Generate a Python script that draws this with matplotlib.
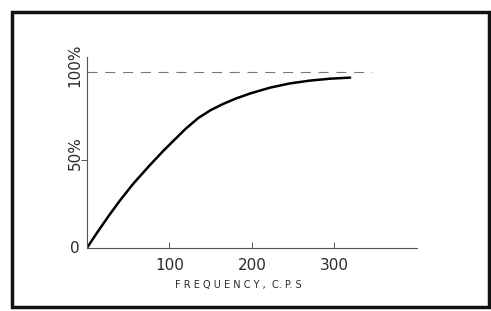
import matplotlib
matplotlib.use("Agg")
import matplotlib.pyplot as plt
from matplotlib.patches import Rectangle

# response curve
freq = [0, 12, 26, 40, 56, 75, 93, 107, 120, 135, 150, 165, 180, 198, 222, 246, 270, 295, 319]
resp = [0, 8.5, 18, 27, 36.5, 46.5, 55.5, 62, 68, 74, 78.5, 82, 85, 88, 91.3, 93.7, 95.3, 96.4, 97]

ref_level = 100
ref_end = 345

xticks = [100, 200, 300]
xtick_labels = ["100", "200", "300"]
yticks = [0, 50, 100]
ytick_labels = ["0", "50%", "100%"]

FONT = ["DejaVu Sans"]
TXT = "#2a2a2a"

fig = plt.figure(figsize=(4.91, 3.11), dpi=100)
ax = fig.add_axes([0.1766, 0.2016, 0.6727, 0.615])

ax.plot(freq, resp, color="black", lw=1.8, solid_capstyle="round",
        solid_joinstyle="round")
ax.plot([0, ref_end], [ref_level, ref_level], color="#777777", lw=0.8,
        dashes=(9, 7))

ax.set_xlim(0, 400)
ax.set_ylim(0, 108.7)

for s in ("top", "right"):
    ax.spines[s].set_visible(False)
for s in ("left", "bottom"):
    ax.spines[s].set_color("#555555")
    ax.spines[s].set_linewidth(0.8)

ax.set_xticks(xticks)
ax.set_xticklabels(xtick_labels, family=FONT, fontsize=11, color=TXT)
ax.tick_params(axis="x", direction="in", length=4, width=0.7, colors="#555555",
               labelcolor=TXT, pad=7)
ax.set_yticks([50])
ax.set_yticklabels([""])
ax.tick_params(axis="y", direction="out", length=4, width=0.7, colors="#555555")

# y labels are set as separate text so they can be rotated like the print
for v, lab in zip(yticks, ytick_labels):
    rot = 0 if v == 0 else 90
    ax.text(-14, v + (4 if v else 0), lab, rotation=rot, ha="center",
            va="center", family=FONT, fontsize=11, color=TXT,
            transform=ax.transData, clip_on=False)

ax.set_xlabel("F R E Q U E N C Y ,  C. P. S", family=FONT, fontsize=7,
              color=TXT)
ax.xaxis.set_label_coords(0.46, -0.165)

# outer frame of the plate
fig.patches.append(Rectangle((12 / 491, 4 / 311), 477 / 491, 295 / 311,
                             transform=fig.transFigure, fill=False,
                             edgecolor="#111111", lw=2.5))

fig.savefig("out.png", dpi=100, facecolor="white")
